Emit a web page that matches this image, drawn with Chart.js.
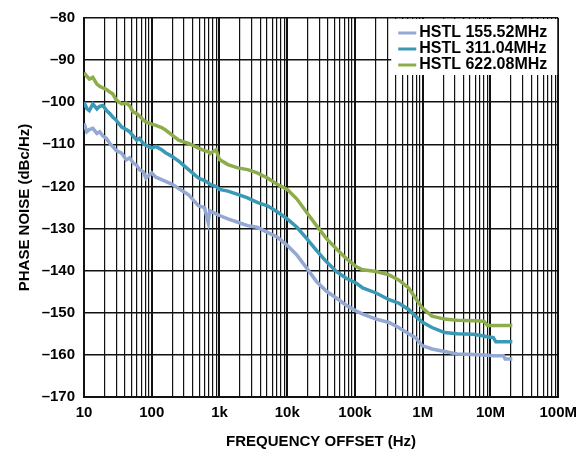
<!DOCTYPE html>
<html>
<head>
<meta charset="utf-8">
<script src="https://cdn.jsdelivr.net/npm/chart.js@4/dist/chart.umd.min.js"></script>
<style>
  html, body { margin: 0; padding: 0; background: #fff; }
  #wrap { width: 584px; height: 453px; position: relative; }
</style>
</head>
<body>
<div id="wrap"><canvas id="myChart" width="584" height="453"></canvas></div>
<script>
// offset frequency (Hz)
var freqs = [10, 11, 12, 13.5, 15.5, 17, 19, 21.5, 24, 26.5, 30, 36, 42, 47, 53, 60, 66, 75, 82,
	100, 115, 140, 160, 200, 250, 350, 490, 600, 680, 720, 890, 1000, 1330, 1860, 2600, 3600, 5100,
	7100, 10000, 13900, 19400, 27000, 38000, 53000, 74000, 105000, 130000, 205000, 318000, 440000,
	620000, 780000, 980000, 1370000, 2100000, 3200000, 5600000, 8000000, 9000000, 11000000,
	12000000, 15500000, 16500000, 21000000];

// phase noise (dBc/Hz)
var hstl155 = [-105, -107, -106.5, -106.2, -107.4, -107, -108, -108.6, -109.8, -110.5, -111.5, -112.1, -113.7, -113.2, -114.4, -115, -116, -116.5, -118,
	-116.8, -117.8, -118.4, -118.8, -119.5, -120.5, -122, -124.6, -125, -128.5, -125.8, -126.5, -126.9, -127.7, -128.5, -129.3, -129.7, -130.9,
	-132, -134, -136.3, -139.4, -142.6, -144.9, -146.5, -148.2, -149.6, -150.3, -151.5, -152.3, -153.5,
	-155, -155.9, -157.8, -158.6, -159.2, -159.8, -159.9, -160, -160.1, -160.2,
	-160.2, -160.2, -161, -161];
var hstl311 = [-100, -101.5, -102, -100.4, -101.6, -101, -100.8, -102, -102.7, -103.5, -104.3, -105.9, -106.5, -107, -108, -109, -108.6, -109.8, -110.2,
	-110.9, -110.5, -111.3, -112, -112.9, -114, -116, -118, -118.6, -119.1, -119.5, -120, -120.7, -121.1, -121.9, -122.7, -123.8, -124.6,
	-126, -127.7, -129.7, -132.4, -135.2, -137.9, -140.2, -141.8, -143, -144.1, -145.3, -146.9, -147.7,
	-149.2, -150.8, -152.2, -153.5, -154.7, -155, -155.1, -155.5, -155.7, -155.9,
	-156.9, -156.9, -156.9, -156.9];
var hstl622 = [-93, -93.8, -94.5, -94.1, -95.7, -96.2, -96.6, -97, -97.6, -98, -99.5, -100.4, -100.2, -100.8, -102.3, -102.7, -103.3, -104.2, -104.7,
	-105.2, -105.5, -106, -106.6, -107.8, -109, -109.8, -110.9, -111.5, -111.7, -112.2, -111.3, -113.6, -114.8, -115.6, -116, -116.8, -118,
	-119.5, -120.7, -123, -126.2, -129.3, -132.4, -134.8, -137.1, -139.1, -139.8, -140.2, -141, -142.2,
	-144.1, -146.5, -148.8, -150.8, -151.5, -151.8, -151.9, -152, -153, -153,
	-153, -153, -153, -153];

var seriesNames = ['HSTL 155.52MHz', 'HSTL 311.04MHz', 'HSTL 622.08MHz'];
var seriesColors = ['#93a8d2', '#3a9ab5', '#8dad4c'];

var xDecades = [10, 100, 1e3, 1e4, 1e5, 1e6, 1e7, 1e8];
var xDecadeLabels = ['10', '100', '1k', '10k', '100k', '1M', '10M', '100M'];
var yTicks = [-170, -160, -150, -140, -130, -120, -110, -100, -90, -80];

var FONT = '"Liberation Sans", Arial, sans-serif';

function toPoints(vals) {
	var out = [];
	for (var i = 0; i < freqs.length; i++) out.push({x: freqs[i], y: vals[i]});
	return out;
}

function isDecade(v) {
	for (var i = 0; i < xDecades.length; i++) if (Math.abs(v - xDecades[i]) < 1e-6 * xDecades[i]) return i;
	return -1;
}

// legend drawn into the top right corner of the plot, on a white box
var boxLegend = {
	id: 'boxLegend',
	afterDatasetsDraw: function(chart) {
		var ctx = chart.ctx;
		var a = chart.chartArea;
		ctx.save();
		ctx.fillStyle = '#fff';
		ctx.fillRect(a.right - 167, a.top + 1, 166, 56);
		ctx.font = 'bold 16px ' + FONT;
		ctx.textBaseline = 'middle';
		ctx.textAlign = 'left';
		for (var i = 0; i < seriesNames.length; i++) {
			var y = a.top + 15 + i * 16;
			ctx.strokeStyle = seriesColors[i];
			ctx.lineWidth = 3;
			ctx.beginPath();
			ctx.moveTo(a.right - 160, y);
			ctx.lineTo(a.right - 142, y);
			ctx.stroke();
			ctx.fillStyle = '#000';
			ctx.fillText(seriesNames[i], a.right - 139, y);
		}
		ctx.restore();
	}
};

var ctx = document.getElementById('myChart').getContext('2d');
var myChart = new Chart(ctx, {
	type: 'line',
	data: {
		datasets: [0, 1, 2].map(function(i) {
			return {
				label: seriesNames[i],
				data: toPoints([hstl155, hstl311, hstl622][i]),
				borderColor: seriesColors[i],
				backgroundColor: seriesColors[i],
				borderWidth: 3.5,
				pointRadius: 0,
				tension: 0
			};
		})
	},
	options: {
		responsive: false,
		animation: false,
		devicePixelRatio: 1,
		layout: { padding: { left: 0, right: 19, top: 13, bottom: 0 } },
		plugins: { legend: { display: false }, tooltip: { enabled: false } },
		scales: {
			x: {
				type: 'logarithmic',
				min: 10,
				max: 1e8,
				afterFit: function(s) { s.height = 56; },
				afterBuildTicks: function(s) {
					var t = [];
					for (var d = 0; d < xDecades.length - 1; d++) {
						for (var k = 1; k < 10; k++) t.push({value: xDecades[d] * k});
					}
					t.push({value: 1e8});
					s.ticks = t;
				},
				grid: {
					color: '#111',
					drawTicks: false,
					lineWidth: function(c) { return isDecade(c.tick.value) >= 0 ? 2 : 1.2; }
				},
				border: { color: '#111', width: 2 },
				ticks: {
					autoSkip: false,
					maxRotation: 0,
					padding: 7,
					color: '#000',
					font: { family: FONT, size: 15, weight: 'bold' },
					callback: function(v) {
						var i = isDecade(v);
						return i >= 0 ? xDecadeLabels[i] : '';
					}
				},
				title: {
					display: true,
					text: 'FREQUENCY OFFSET (Hz)',
					color: '#000',
					font: { family: FONT, size: 15, weight: 'bold' },
					padding: { top: 0, bottom: 2 }
				}
			},
			y: {
				min: -170,
				max: -80,
				afterFit: function(s) { s.width = 84; },
				afterBuildTicks: function(s) {
					s.ticks = yTicks.map(function(v) { return {value: v}; });
				},
				grid: { color: '#111', lineWidth: 1.6, drawTicks: false },
				border: { color: '#111', width: 2 },
				ticks: {
					padding: 9,
					color: '#000',
					font: { family: FONT, size: 15, weight: 'bold' },
					callback: function(v) { return '\u2013' + Math.abs(v); }
				},
				title: {
					display: true,
					text: 'PHASE NOISE (dBc/Hz)',
					color: '#000',
					font: { family: FONT, size: 15, weight: 'bold' },
					padding: { top: 16, bottom: 0 }
				}
			}
		}
	},
	plugins: [boxLegend]
});
</script>
</body>
</html>
